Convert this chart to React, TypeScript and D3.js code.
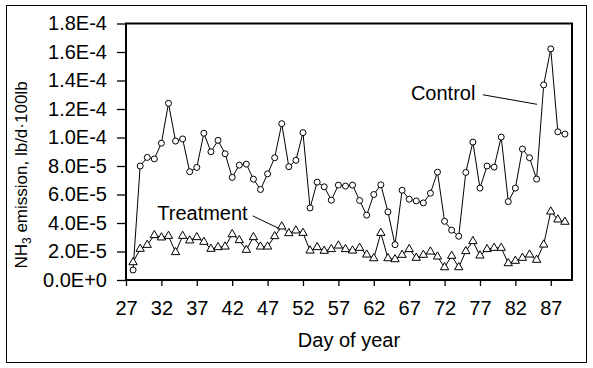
import { useRef, useEffect } from 'react'
import * as d3 from 'd3'

const days = d3.range(28, 90)

const control = [
  7.0e-6, 8.0e-5, 8.6e-5, 8.5e-5, 9.6e-5, 1.24e-4, 9.75e-5, 9.9e-5, 7.6e-5, 7.9e-5,
  1.03e-4, 9.0e-5, 9.8e-5, 8.86e-5, 7.2e-5, 8.06e-5, 8.13e-5, 7.08e-5, 6.35e-5, 7.45e-5,
  8.58e-5, 1.097e-4, 7.95e-5, 8.4e-5, 1.034e-4, 5.06e-5, 6.87e-5, 6.54e-5, 5.6e-5, 6.66e-5,
  6.59e-5, 6.66e-5, 5.58e-5, 4.55e-5, 6.0e-5, 6.68e-5, 4.78e-5, 2.48e-5, 6.3e-5, 5.67e-5,
  5.55e-5, 5.41e-5, 6.09e-5, 7.57e-5, 4.12e-5, 3.5e-5, 3.07e-5, 7.55e-5, 9.68e-5, 6.45e-5,
  8.0e-5, 7.92e-5, 1.003e-4, 5.5e-5, 6.45e-5, 9.19e-5, 8.58e-5, 7.08e-5, 1.369e-4, 1.622e-4,
  1.04e-4, 1.024e-4,
]

const treatment = [
  1.24e-5, 2.18e-5, 2.46e-5, 3.14e-5, 2.98e-5, 3.09e-5, 1.95e-5, 3.09e-5, 2.77e-5, 3.0e-5,
  2.67e-5, 2.18e-5, 2.3e-5, 2.34e-5, 3.21e-5, 2.79e-5, 2.11e-5, 3.0e-5, 2.34e-5, 2.34e-5,
  3.07e-5, 3.75e-5, 3.28e-5, 3.47e-5, 3.3e-5, 2.06e-5, 2.3e-5, 2.04e-5, 2.16e-5, 2.41e-5,
  2.16e-5, 2.06e-5, 2.25e-5, 1.78e-5, 1.52e-5, 3.3e-5, 1.52e-5, 1.45e-5, 1.76e-5, 2.16e-5,
  1.55e-5, 1.76e-5, 1.99e-5, 1.64e-5, 0.89e-5, 1.69e-5, 0.89e-5, 2.02e-5, 2.72e-5, 1.71e-5,
  2.16e-5, 2.25e-5, 2.25e-5, 1.17e-5, 1.34e-5, 1.55e-5, 1.78e-5, 1.41e-5, 2.48e-5, 4.8e-5,
  4.24e-5, 4.08e-5,
]

const xTicks = d3.range(27, 88, 5)
const yTicks = d3.range(0, 10).map((i) => i * 2e-5)

// series labels with leader lines, in data units: [day, value]
const labels = [
  { name: 'Control', text: [71.8, 1.31e-4], from: [77.4, 1.3e-4], to: [85.05, 1.233e-4] },
  { name: 'Treatment', text: [37.8, 4.69e-5], from: [44.9, 4.5e-5], to: [48.5, 3.64e-5] },
]

const W = 593
const H = 368
const font = 'Arial, "Liberation Sans", sans-serif'

const App = () => {
  const svgRef = useRef<SVGSVGElement>(null)

  useEffect(() => {
    const svg = d3.select(svgRef.current)
    svg.selectAll('*').remove()

    const x = d3.scaleLinear().domain([27, 90]).range([126, 572])
    const y = d3.scaleLinear().domain([0, 1.8e-4]).range([280, 23.5])
    const fmt = (v: number) => d3.format('.1e')(v).toUpperCase()

    // chart border
    svg.append('rect').attr('x', 6.5).attr('y', 5.5).attr('width', 580).attr('height', 357)
      .attr('fill', 'white').attr('stroke', 'black').attr('stroke-width', 1)

    // plot frame
    svg.append('rect').attr('x', 126).attr('y', 23.5).attr('width', 446).attr('height', 256.5)
      .attr('fill', 'none').attr('stroke', 'black').attr('stroke-width', 2)

    const yAxis = svg.append('g').attr('transform', 'translate(126,0)')
      .call(d3.axisLeft(y).tickValues(yTicks).tickFormat((d) => fmt(+d)).tickSize(9).tickPadding(10))
    const xAxis = svg.append('g').attr('transform', 'translate(0,280)')
      .call(d3.axisBottom(x).tickValues(xTicks).tickFormat(d3.format('d')).tickSize(6).tickPadding(15))
    ;[yAxis, xAxis].forEach((g) => {
      g.select('.domain').remove()
      g.selectAll('line').attr('stroke', 'black').attr('stroke-width', 1.3)
      g.selectAll('text').attr('font-family', font).attr('font-size', 20).attr('fill', 'black')
    })

    svg.append('text').attr('x', 349).attr('y', 347).attr('text-anchor', 'middle')
      .attr('font-family', font).attr('font-size', 20).text('Day of year')

    const yt = svg.append('text').attr('transform', 'translate(27,175) rotate(-90)')
      .attr('text-anchor', 'middle').attr('font-family', font).attr('font-size', 17)
    yt.append('tspan').text('NH')
    yt.append('tspan').attr('font-size', 12).attr('dy', 4).text('3')
    yt.append('tspan').attr('dy', -4).text(' emission, lb/d·100lb')

    const line = d3.line<number>().x((d, i) => x(days[i])).y((d) => y(d))

    svg.append('path').datum(treatment).attr('d', line).attr('fill', 'none').attr('stroke', 'black').attr('stroke-width', 1)
    svg.append('path').datum(control).attr('d', line).attr('fill', 'none').attr('stroke', 'black').attr('stroke-width', 1)

    svg.append('g').selectAll('path').data(treatment).join('path')
      .attr('d', d3.symbol(d3.symbolTriangle, 30))
      .attr('transform', (d, i) => `translate(${x(days[i])},${y(d)})`)
      .attr('fill', 'white').attr('stroke', 'black').attr('stroke-width', 1)

    svg.append('g').selectAll('circle').data(control).join('circle')
      .attr('cx', (d, i) => x(days[i])).attr('cy', (d) => y(d)).attr('r', 3)
      .attr('fill', 'white').attr('stroke', 'black').attr('stroke-width', 1)

    labels.forEach((l) => {
      svg.append('text').attr('x', x(l.text[0])).attr('y', y(l.text[1]) + 7)
        .attr('text-anchor', 'middle').attr('font-family', font).attr('font-size', 20).text(l.name)
      svg.append('line').attr('x1', x(l.from[0])).attr('y1', y(l.from[1]))
        .attr('x2', x(l.to[0])).attr('y2', y(l.to[1])).attr('stroke', 'black').attr('stroke-width', 1)
    })
  }, [])

  return <svg ref={svgRef} width={W} height={H} style={{ position: 'absolute', left: 0, top: 0 }}></svg>
}

export default App
